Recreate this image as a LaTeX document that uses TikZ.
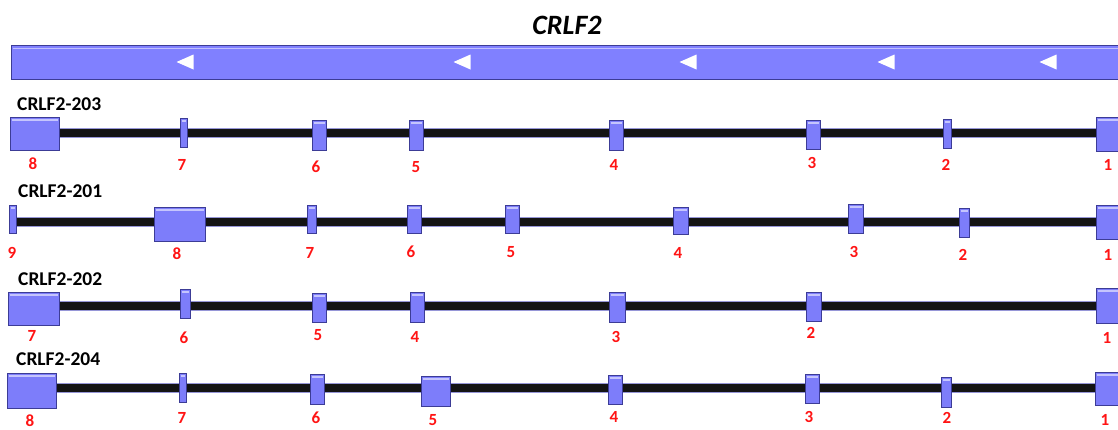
\documentclass[tikz,border=0pt]{standalone}
\usepackage{fontspec}
\setmainfont{Carlito}
\pgfdeclarelayer{bg}
\pgfsetlayers{bg,main}
\definecolor{exfill}{RGB}{125,125,250}
\definecolor{exdraw}{RGB}{60,60,150}
\definecolor{genefill}{RGB}{128,128,255}
\definecolor{intronedge}{RGB}{150,150,215}
\definecolor{labred}{RGB}{255,20,20}
\tikzset{
  exon/.style={draw=exdraw, line width=0.9pt, fill=exfill, inner sep=0pt, outer sep=0pt,
    path picture={\draw[white!55!exfill, line width=1.4pt]
      ([xshift=1.5pt,yshift=-3pt]path picture bounding box.north west) --
      ([xshift=-1.5pt,yshift=-3pt]path picture bounding box.north east);}},
  exlab/.style={text=labred, font=\fontsize{17}{17}\selectfont\bfseries, inner sep=0pt},
  trlab/.style={font=\fontsize{19.5}{20}\selectfont\bfseries, inner sep=0pt, anchor=west},
  introut/.style={line width=10.5pt, draw=intronedge},
  intron/.style={line width=8.3pt, draw=black!92},
  tri/.style={fill=white}
}
\newcommand\ex[8]{%
  \node[exon, minimum width={(#4-#2)*1pt}, minimum height={(#5-#3)*1pt}] (#1) at ({(#2+#4)/2},{(#3+#5)/2}) {};
  \node[exlab] (#1l) at (#7,#8) {#6};
}
\newcommand\intronline[2]{%
  \begin{pgfonlayer}{bg}
  \draw[introut] (#1) -- (#2);
  \draw[intron] (#1) -- (#2);
  \end{pgfonlayer}
}
\begin{document}
\begin{tikzpicture}[x=1pt,y=-1pt]
\useasboundingbox (0,0) rectangle (1118,429);
\begin{pgfonlayer}{bg}
\fill[white] (0,0) rectangle (1118,429);
\end{pgfonlayer}
\clip (0,0) rectangle (1118,429);

% title
\node[font=\fontsize{28}{28}\selectfont\bfseries\itshape, inner sep=0pt] (title) at (567,25) {CRLF2};

% gene bar
\node[draw=exdraw, line width=0.9pt, fill=genefill, inner sep=0pt, outer sep=0pt,
  minimum width=1114pt, minimum height=34pt,
  path picture={\draw[white!50!genefill, line width=1.5pt]
      ([xshift=2pt,yshift=-3.5pt]path picture bounding box.north west) --
      ([xshift=-2pt,yshift=-3.5pt]path picture bounding box.north east);}] (gene) at (568,62) {};
\foreach \tx in {185,462,688,886,1048}
  \fill[tri] (\tx,62) ++(-8.5,0) -- ++(17,-7.5) -- ++(0,15) -- cycle;

% CRLF2-203
\node[trlab] (t203) at (17,104) {CRLF2-203};
\ex{a8}{10}{117}{59}{150}{8}{33}{164}
\ex{a7}{180}{118}{187}{147}{7}{182}{165}
\ex{a6}{312}{120}{326}{150}{6}{316}{167}
\ex{a5}{409}{120}{423}{150}{5}{416}{167}
\ex{a4}{609}{120}{623}{150}{4}{614}{165}
\ex{a3}{806}{120}{820}{149}{3}{812}{163}
\ex{a2}{943}{119}{951}{148}{2}{946}{165}
\ex{a1}{1096}{117}{1130}{151}{1}{1108}{165}
\coordinate (a0s) at (30,133);
\coordinate (a0e) at (1110,133);
\intronline{a0s}{a0e}

% CRLF2-201
\node[trlab] (t201) at (18,191) {CRLF2-201};
\ex{b9}{9}{205}{16}{233}{9}{12}{253}
\ex{b8}{154}{207}{205}{241}{8}{177}{254}
\ex{b7}{307}{205}{316}{233}{7}{310}{253}
\ex{b6}{407}{205}{421}{233}{6}{411}{252}
\ex{b5}{505}{205}{519}{233}{5}{511}{252}
\ex{b4}{673}{207}{688}{234}{4}{678}{253}
\ex{b3}{848}{204}{863}{233}{3}{854}{252}
\ex{b2}{959}{208}{969}{237}{2}{963}{255}
\ex{b1}{1096}{205}{1130}{239}{1}{1108}{255}
\coordinate (b0s) at (12,222);
\coordinate (b0e) at (1110,222);
\intronline{b0s}{b0e}

% CRLF2-202
\node[trlab] (t202) at (18,279) {CRLF2-202};
\ex{c7}{8}{292}{59}{325}{7}{32}{336}
\ex{c6}{180}{289}{190}{318}{6}{184}{338}
\ex{c5}{312}{293}{326}{322}{5}{318}{335}
\ex{c4}{410}{292}{424}{322}{4}{415}{337}
\ex{c3}{609}{292}{625}{322}{3}{616}{337}
\ex{c2}{806}{292}{821}{321}{2}{811}{333}
\ex{c1}{1096}{288}{1130}{323}{1}{1107}{338}
\coordinate (c0s) at (30,306);
\coordinate (c0e) at (1110,306);
\intronline{c0s}{c0e}

% CRLF2-204
\node[trlab] (t204) at (16,359) {CRLF2-204};
\ex{d8}{7}{373}{56}{408}{8}{30}{421}
\ex{d7}{179}{373}{186}{402}{7}{182}{418}
\ex{d6}{310}{374}{324}{404}{6}{316}{418}
\ex{d5}{421}{376}{450}{406}{5}{433}{420}
\ex{d4}{608}{375}{622}{404}{4}{614}{417}
\ex{d3}{805}{374}{819}{403}{3}{809}{417}
\ex{d2}{941}{377}{951}{407}{2}{947}{418}
\ex{d1}{1095}{372}{1130}{405}{1}{1105}{420}
\coordinate (d0s) at (30,388);
\coordinate (d0e) at (1110,388);
\intronline{d0s}{d0e}
\end{tikzpicture}
\end{document}
